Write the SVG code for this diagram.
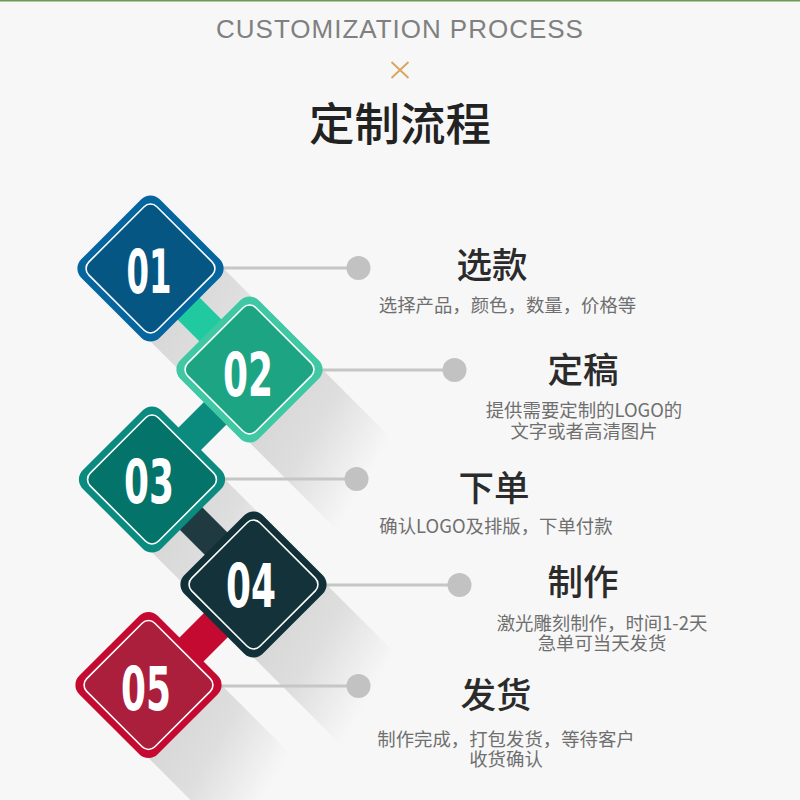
<svg xmlns="http://www.w3.org/2000/svg" width="800" height="800" viewBox="0 0 800 800">
<style>
.cjk{font-family:"Noto Sans CJK SC","Noto Sans",sans-serif;text-anchor:middle}
.h{font-size:35.5px;font-weight:500;fill:#2b2b2b}
.s{font-size:18.4px;fill:#6f6f6f}
.n{font-family:"DejaVu Sans",sans-serif;font-weight:700;font-size:60px;fill:#fff;text-anchor:middle}
.i{stroke:#fff;stroke-width:1.6}
.lead{stroke:#c6c6c6;stroke-width:3;fill:none}
.dot{fill:#c2c2c2}
</style>
<defs>
<linearGradient id="sg" gradientUnits="userSpaceOnUse" x1="30" y1="30" x2="130" y2="88">
<stop offset="0" stop-color="#d8d8d8"/><stop offset="0.4" stop-color="#dedede"/><stop offset="1" stop-color="#f7f7f7"/>
</linearGradient>
<polygon id="shadow" points="73,0 0,73 100,173 173,100" fill="url(#sg)"/>
<rect id="outer" x="-55.500" y="-55.500" width="111" height="111" rx="13" transform="rotate(45)"/>
<rect id="inner" x="-48.200" y="-48.200" width="96.400" height="96.400" rx="9" transform="rotate(45)"/>
</defs>
<rect width="800" height="800" fill="#f7f7f7"/>
<rect width="800" height="1.5" fill="#6b9b52"/>
<g id="header">
<text x="400" y="38" text-anchor="middle" font-family="Liberation Sans, sans-serif" font-size="26" letter-spacing="0.98" fill="#808080">CUSTOMIZATION PROCESS</text>
<path d="M391.500 62 L408.500 78 M408.500 62 L391.500 78" stroke="#d9a560" stroke-width="1.8" fill="none"/>
<text class="cjk" x="400" y="141" font-size="45.500" font-weight="500" fill="#222">定制流程</text>
</g>
<g id="shadows">
<use href="#shadow" x="150.500" y="268.500"/>
<use href="#shadow" x="249.500" y="369.500"/>
<use href="#shadow" x="152" y="479.500"/>
<use href="#shadow" x="253.500" y="584.500"/>
<use href="#shadow" x="148.500" y="685"/>
</g>
<g id="connectors">
<polygon points="191,289 231,329 209,351 169,311" fill="#20c9a0"/>
<polygon points="210.500,395.500 233,418 194.500,456.500 172,434" fill="#0b8a7e"/>
<polygon points="195,500 235,540 212.500,562.500 172.500,522.500" fill="#1f3a40"/>
<polygon points="211,606 235,630 195,670 171,646" fill="#c40a30"/>
<path class="lead" d="M222 268H358"/><circle class="dot" cx="358.500" cy="268" r="12"/>
<path class="lead" d="M321 370H455"/><circle class="dot" cx="454.500" cy="370" r="12"/>
<path class="lead" d="M224 479H357"/><circle class="dot" cx="356.500" cy="479" r="12"/>
<path class="lead" d="M325 585H460"/><circle class="dot" cx="459.500" cy="585" r="12"/>
<path class="lead" d="M220 686H358"/><circle class="dot" cx="358.500" cy="686" r="12"/>
</g>
<g id="node1">
<use href="#outer" x="150.500" y="268.500" fill="#05659f"/>
<use href="#inner" x="150.500" y="268.500" fill="#065683" class="i"/>
<text class="n" x="149" y="293" textLength="45" lengthAdjust="spacingAndGlyphs">01</text>
<text class="cjk h" x="492" y="278">选款</text>
<text class="cjk s" x="507.500" y="312">选择产品，颜色，数量，价格等</text>
</g>
<g id="node2">
<use href="#outer" x="249.500" y="369.500" fill="#3fc8a3"/>
<use href="#inner" x="249.500" y="369.500" fill="#1da483" class="i"/>
<text class="n" x="248" y="396" textLength="50" lengthAdjust="spacingAndGlyphs">02</text>
<text class="cjk h" x="583" y="383">定稿</text>
<text class="cjk s" x="584" y="417">提供需要定制的LOGO的</text>
<text class="cjk s" x="584" y="438">文字或者高清图片</text>
</g>
<g id="node3">
<use href="#outer" x="152" y="479.500" fill="#0b8a80"/>
<use href="#inner" x="152" y="479.500" fill="#04736a" class="i"/>
<text class="n" x="149" y="503" textLength="50" lengthAdjust="spacingAndGlyphs">03</text>
<text class="cjk h" x="494" y="501">下单</text>
<text class="cjk s" x="496" y="533">确认LOGO及排版，下单付款</text>
</g>
<g id="node4">
<use href="#outer" x="253.500" y="584.500" fill="#123037"/>
<use href="#inner" x="253.500" y="584.500" fill="#133239" class="i"/>
<text class="n" x="251" y="607" textLength="50" lengthAdjust="spacingAndGlyphs">04</text>
<text class="cjk h" x="583" y="595">制作</text>
<text class="cjk s" x="602" y="630">激光雕刻制作，时间1-2天</text>
<text class="cjk s" x="602" y="650">急单可当天发货</text>
</g>
<g id="node5">
<use href="#outer" x="148.500" y="685" fill="#c40a30"/>
<use href="#inner" x="148.500" y="685" fill="#ab1f3d" class="i"/>
<text class="n" x="146" y="710" textLength="50" lengthAdjust="spacingAndGlyphs">05</text>
<text class="cjk h" x="496" y="708">发货</text>
<text class="cjk s" x="506" y="746">制作完成，打包发货，等待客户</text>
<text class="cjk s" x="506" y="766">收货确认</text>
</g>
</svg>
